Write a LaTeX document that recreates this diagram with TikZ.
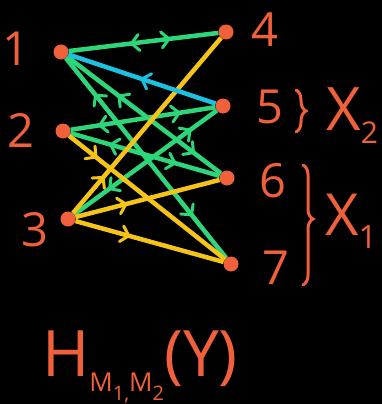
\documentclass[tikz,border=0pt]{standalone}
\usepackage{fontspec}
\setsansfont{Open Sans}
\usepackage{tikz}
\usetikzlibrary{
  arrows.meta,
  positioning,
  decorations.markings,
  decorations.pathreplacing
}
\usepackage{xcolor}
\definecolor{ink}{RGB}{240,96,58}
\definecolor{linkgreen}{RGB}{46,214,122}
\definecolor{linkblue}{RGB}{26,194,224}
\definecolor{linkyellow}{RGB}{246,196,22}
\newcommand{\lowdigit}[1]{\raisebox{-9pt}{\fontsize{20}{20}\selectfont #1}}

\begin{document}
\begin{tikzpicture}[
  x=1pt, y=-1pt,
  every node/.style={font=\sffamily, text=ink, inner sep=0},
  vertex/.style={circle, fill=ink, minimum size=15pt},
  digit/.style={font=\sffamily\fontsize{47}{47}\selectfont},
  link/.style={line width=4.5pt},
  chev/.tip={Straight Barb[length=7.5pt, width=16pt, line width=3pt, round]},
  tofar/.style={postaction={decorate, decoration={markings,
      mark=at position #1 with {\arrow{chev}}}}},
  tonear/.style={postaction={decorate, decoration={markings,
      mark=at position #1 with {\arrowreversed{chev}}}}}
]

\path[fill=black, use as bounding box] (0,0) rectangle (382,404);

% Vertices
\node[vertex] (n1) at (61,52) {};
\node[vertex] (n2) at (63,131) {};
\node[vertex] (n3) at (68,219) {};
\node[vertex] (n4) at (226,32) {};
\node[vertex] (n5) at (223,106) {};
\node[vertex] (n6) at (227,178) {};
\node[vertex] (n7) at (231,264) {};

% Numbers
\node[digit] (l1) at (16,49) {1};
\node[digit] (l2) at (21,130) {2};
\node[digit] (l3) at (35,230) {3};
\node[digit] (l4) at (265,30) {4};
\node[digit] (l5) at (270,107) {5};
\node[digit] (l6) at (273,181) {6};
\node[digit] (l7) at (276,268) {7};

% Two-way links
\foreach \a/\b/\p/\q in {1/4/0.41/0.68, 1/6/0.33/0.83, 1/7/0.18/0.79,
                         2/5/0.19/0.76, 2/6/0.26/0.71, 3/5/0.24/0.82} {
  \draw[link, linkgreen, tonear=\p, tofar=\q] (n\a) -- (n\b);
}

% One-way links
\foreach \a/\b/\q in {3/4/0.21, 3/6/0.36, 3/7/0.37, 2/7/0.18} {
  \draw[link, linkyellow, tofar=\q] (n\a) -- (n\b);
}
\draw[link, linkblue, tonear=0.49] (n1) -- (n5);

% Groups
\draw[ink, line width=3pt, line cap=round, decorate,
      decoration={brace, amplitude=10pt}] (296,90) -- (296,132);
\node[anchor=base west, font=\sffamily\fontsize{60}{60}\selectfont] (x2)
  at (326,130) {X\raisebox{-13pt}{\fontsize{30}{30}\selectfont 2}};
\draw[ink, line width=3pt, line cap=round, decorate,
      decoration={brace, amplitude=10pt, aspect=0.45}] (303,165) -- (303,285);
\node[anchor=base west, font=\sffamily\fontsize{58}{58}\selectfont] (x1)
  at (325,235) {X\raisebox{-13pt}{\fontsize{32}{32}\selectfont 1}};

% Entropy label
\node[anchor=base west, font=\sffamily\fontsize{64}{64}\selectfont] (hy)
  at (42,376) {H\raisebox{-15pt}{\fontsize{26}{26}\selectfont M\lowdigit{1,}M\lowdigit{2}}(Y)};

\end{tikzpicture}
\end{document}
